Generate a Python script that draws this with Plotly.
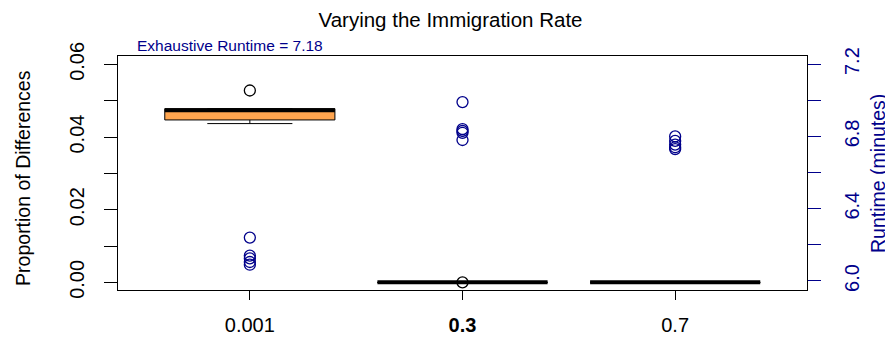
import plotly.graph_objects as go

# ---- data ----
rates = ["0.001", "0.3", "0.7"]
rate_labels = ["0.001", "<b>0.3</b>", "0.7"]

prop_q1 = [0.0447, 0.0, 0.0]
prop_median = [0.0474, 0.0, 0.0]
prop_q3 = [0.0478, 0.0, 0.0]
prop_lower = [0.0437, 0.0, 0.0]
prop_upper = [0.0478, 0.0, 0.0]

outlier_rate = ["0.001", "0.3"]
outlier_value = [0.0528, 0.0]

runtime_001 = [6.24, 6.14, 6.125, 6.105, 6.09]
runtime_03 = [6.99, 6.84, 6.83, 6.82, 6.78]
runtime_07 = [6.80, 6.775, 6.755, 6.74, 6.73]
runtimes = [runtime_001, runtime_03, runtime_07]

exhaustive_runtime = 7.18

left_ticks = [0.0, 0.01, 0.02, 0.03, 0.04, 0.05, 0.06]
left_ticktext = ["0.00", "", "0.02", "", "0.04", "", "0.06"]
right_ticks = [6.0, 6.2, 6.4, 6.6, 6.8, 7.0, 7.2]
right_ticktext = ["6.0", "", "6.4", "", "6.8", "", "7.2"]

# ---- styling ----
FONT = "Liberation Sans, Arial, sans-serif"
NAVY = "#00008B"
ORANGE = "#FFA54F"

pos = list(range(1, len(rates) + 1))
idx = {r: i + 1 for i, r in enumerate(rates)}

fig = go.Figure()

for i, p in enumerate(pos):
    fig.add_trace(go.Box(
        x=[p], q1=[prop_q1[i]], median=[prop_median[i]], q3=[prop_q3[i]],
        lowerfence=[prop_lower[i]], upperfence=[prop_upper[i]],
        width=0.8, whiskerwidth=0.5, fillcolor=ORANGE,
        line=dict(color="black", width=1), boxpoints=False,
        hoverinfo="skip", showlegend=False, yaxis="y",
    ))
    # thick median line
    fig.add_trace(go.Scatter(
        x=[p - 0.4, p + 0.4], y=[prop_median[i], prop_median[i]],
        mode="lines", line=dict(color="black", width=4),
        showlegend=False, hoverinfo="skip", yaxis="y",
    ))

fig.add_trace(go.Scatter(
    x=[idx[r] for r in outlier_rate], y=outlier_value, mode="markers",
    marker=dict(symbol="circle-open", size=11, color="black", line=dict(width=1.3)),
    showlegend=False, yaxis="y",
))

for i, p in enumerate(pos):
    fig.add_trace(go.Scatter(
        x=[p] * len(runtimes[i]), y=runtimes[i], mode="markers",
        marker=dict(symbol="circle-open", size=11, color=NAVY, line=dict(width=1.3)),
        showlegend=False, yaxis="y2",
    ))

fig.add_annotation(
    text=f"Exhaustive Runtime = {exhaustive_runtime}", xref="paper", yref="paper",
    x=0.024, y=1.0, xanchor="left", yanchor="bottom", showarrow=False,
    font=dict(family=FONT, size=15.5, color=NAVY),
)
fig.add_annotation(
    text="Proportion of Differences", xref="paper", yref="paper",
    x=-0.139, y=0.48, xanchor="center", yanchor="middle", textangle=-90,
    showarrow=False, font=dict(family=FONT, size=19.5, color="black"),
)
fig.add_annotation(
    text="Runtime (minutes)", xref="paper", yref="paper",
    x=1.103, y=0.5, xanchor="center", yanchor="middle", textangle=-90,
    showarrow=False, font=dict(family=FONT, size=19.5, color=NAVY),
)

# the page body adds an 8px offset, so the figure is 8px smaller
fig.update_layout(
    width=885, height=333,
    margin=dict(l=110, r=86, t=48, b=51, autoexpand=False),
    paper_bgcolor="white", plot_bgcolor="white",
    font=dict(family=FONT, size=20, color="black"),
    title=dict(text="Varying the Immigration Rate", x=0.5, xref="container",
               xanchor="center", y=0.963, yanchor="middle",
               font=dict(family=FONT, size=20.5)),
    xaxis=dict(range=[0.38, 3.62], tickvals=pos, ticktext=rate_labels,
               ticks="outside", ticklen=9, tickcolor="black", showgrid=False,
               zeroline=False, showline=True, linecolor="black", linewidth=1,
               mirror=True, tickfont=dict(size=20), ticklabelstandoff=8,
               automargin=False),
    yaxis=dict(range=[-0.0021, 0.0623], tickvals=left_ticks, ticktext=left_ticktext,
               tickangle=-90, ticks="outside", ticklen=13, tickcolor="black",
               showgrid=False, zeroline=False, showline=True, linecolor="black",
               linewidth=1, mirror=True, tickfont=dict(size=20),
               ticklabelstandoff=12, automargin=False),
    yaxis2=dict(range=[5.95, 7.245], overlaying="y", side="right",
                tickvals=right_ticks, ticktext=right_ticktext, tickangle=-90,
                ticks="outside", ticklen=13, tickcolor=NAVY, showgrid=False,
                zeroline=False, showline=False, ticklabelstandoff=14,
                tickfont=dict(size=20, color=NAVY), automargin=False),
)

fig.write_html("out.html")
